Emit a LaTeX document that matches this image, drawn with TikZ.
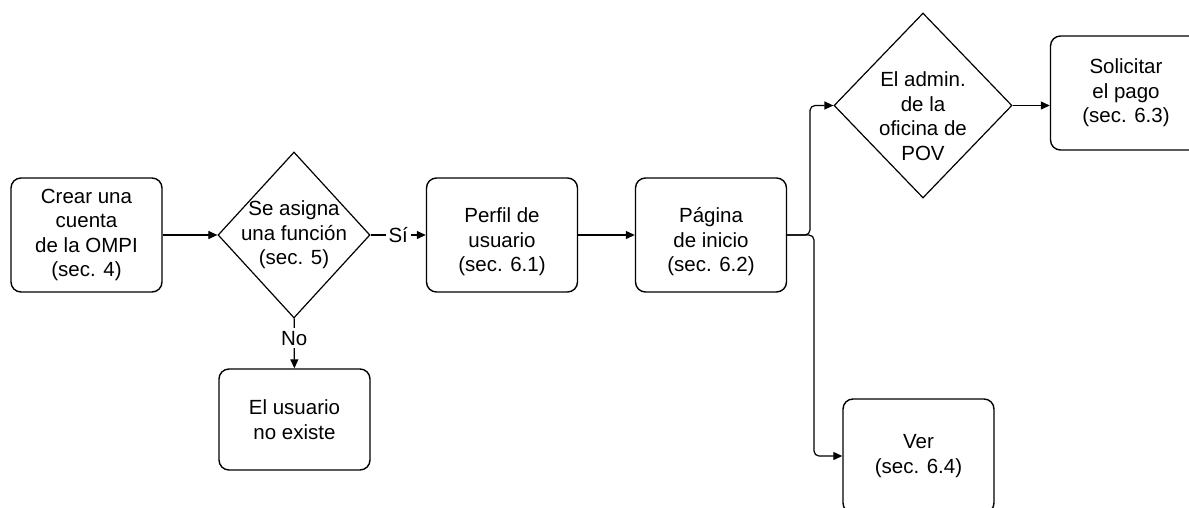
\documentclass[tikz,border=0pt]{standalone}
\usepackage{fontspec}
\setmainfont{Liberation Sans}
\usetikzlibrary{shapes.geometric,arrows.meta}
\begin{document}
\begin{tikzpicture}[x=1pt,y=-1pt,
  every node/.style={font=\fontsize{20.5}{24.5}\selectfont},
  stepbox/.style={draw, line width=1.4pt, rounded corners=10pt, minimum width=151pt,
    minimum height=114pt, inner sep=0pt, align=center},
  decision/.style={draw, diamond, line width=1.2pt, inner sep=0pt},
  inner text/.style={align=center, inner sep=0pt},
  conn/.style={line width=1.2pt, -{Triangle[length=9pt,width=8pt]}},
  edgelabel/.style={fill=white, inner sep=3pt}
]
\useasboundingbox (0,0) rectangle (1189,507);

% process steps
\node[stepbox] (crear) at (86.5,235) {Crear una\\cuenta\\de la OMPI\\(sec. 4)};
\node[stepbox, label={[inner text, yshift=-7pt]center:Perfil de\\usuario\\(sec. 6.1)}]
  (perfil) at (502,235) {};
\node[stepbox, label={[inner text, yshift=-7pt]center:Página\\de inicio\\(sec. 6.2)}]
  (inicio) at (711,235) {};
\node[stepbox] (pago) at (1126,93) {Solicitar\\el pago\\(sec. 6.3)};
\node[stepbox] (ver) at (918.5,456) {Ver\\(sec. 6.4)};
\node[stepbox, minimum height=101pt] (noexiste) at (294.5,419.5) {El usuario\\no existe};

% decisions
\node[decision, minimum width=152pt, minimum height=166pt] (asigna) at (294,235) {};
\node[inner text] at (asigna) {Se asigna\\una función\\(sec. 5)};
\node[decision, minimum width=178pt, minimum height=185pt] (admin) at (923,105.5) {};
\node[inner text] at (923,116) {El admin.\\de la\\oficina de\\POV};

% branch points after the home page
\coordinate (up) at (810,235);
\coordinate (down) at (814,235);

% connectors
\draw[conn] (crear) -- (asigna);
\draw[conn] (asigna) -- node[edgelabel] {Sí} (perfil);
\draw[conn] (asigna) -- node[edgelabel, pos=0.4] {No} (noexiste);
\draw[conn] (perfil) -- (inicio);
\draw[conn, rounded corners=5pt] (inicio.east) -- (up) |- (admin.west);
\draw[conn, rounded corners=5pt] (inicio.east) -- (down) |- (ver.west);
\draw[conn] (admin.east) -- (admin.east -| pago.west);
\end{tikzpicture}
\end{document}
